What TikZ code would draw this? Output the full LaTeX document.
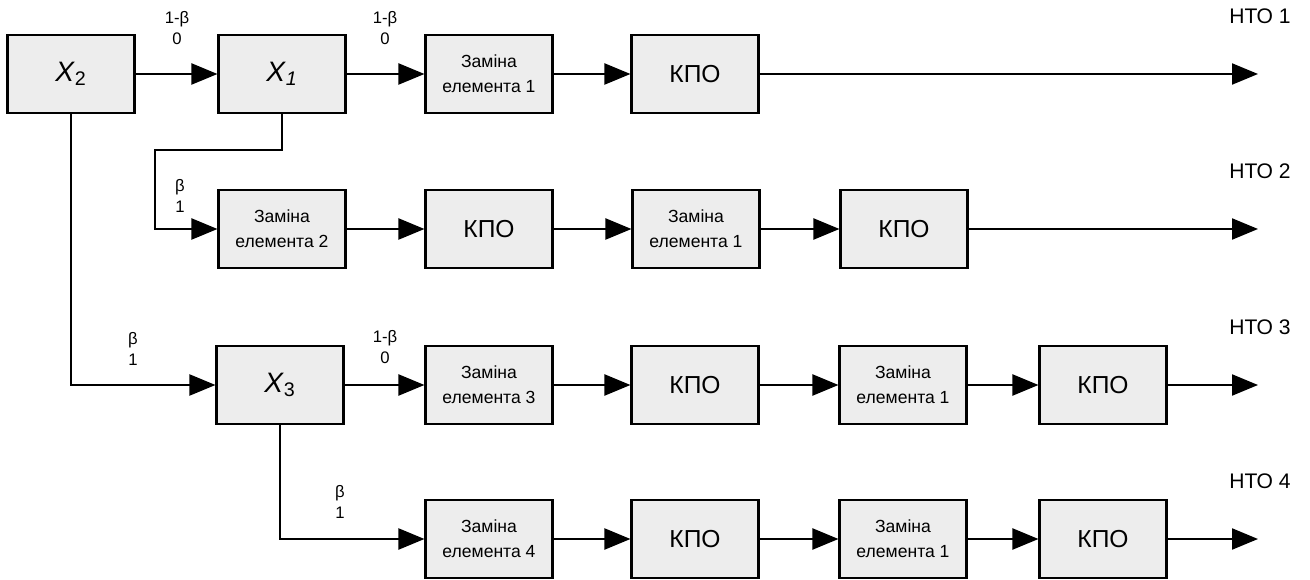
\documentclass[tikz,border=0pt]{standalone}
\usepackage{fontspec}
\setmainfont{Liberation Sans}
\usetikzlibrary{arrows.meta}

\begin{document}
\begin{tikzpicture}[x=0.02cm, y=-0.02cm, line width=1.2pt, >={Triangle[length=5.2mm, width=4.2mm]},
	blk/.style={draw, fill=gray!14, minimum width=2.54cm, minimum height=1.56cm, inner sep=1pt, align=center},
	zam/.style={blk, font=\fontsize{10}{14}\selectfont},
	kpo/.style={blk, font=\fontsize{14}{16}\selectfont},
	var/.style={blk, font=\fontsize{16}{18}\selectfont},
	lbl/.style={align=center, inner sep=0pt, font=\fontsize{9.5}{11.5}\selectfont},
	outlbl/.style={anchor=center, inner sep=0pt, font=\fontsize{12}{14}\selectfont}]
	\useasboundingbox (0,0) rectangle (1310,580);
	% row 1
	\node[var] (x2) at (71,74) {\textit{X}\textsubscript{2}};
	\node[var] (x1) at (282,74) {\textit{X}\textsubscript{\textit{1}}};
	\node[zam] (za1) at (489,74) {Заміна\\елемента 1};
	\node[kpo] (ka1) at (695,74) {КПО};
	% row 2
	\node[zam] (zb2) at (282,229) {Заміна\\елемента 2};
	\node[kpo] (kb1) at (489,229) {КПО};
	\node[zam] (zb1) at (696,229) {Заміна\\елемента 1};
	\node[kpo] (kb2) at (904,229) {КПО};
	% row 3
	\node[var] (x3) at (280,385) {\textit{X}\textsubscript{3}};
	\node[zam] (zc3) at (489,385) {Заміна\\елемента 3};
	\node[kpo] (kc1) at (695,385) {КПО};
	\node[zam] (zc1) at (903,385) {Заміна\\елемента 1};
	\node[kpo] (kc2) at (1103,385) {КПО};
	% row 4
	\node[zam] (zd4) at (489,539) {Заміна\\елемента 4};
	\node[kpo] (kd1) at (695,539) {КПО};
	\node[zam] (zd1) at (903,539) {Заміна\\елемента 1};
	\node[kpo] (kd2) at (1103,539) {КПО};
	% outputs
	\foreach \o/\y/\t in {o1/74/1, o2/229/2, o3/385/3, o4/539/4} {
		\coordinate (\o) at (1258,\y);
		\node[outlbl] (h\o) at (1260,\y-58) {НТО \t};
	}
	% straight connectors
	\foreach \a/\b in {x2/x1, x1/za1, za1/ka1, ka1/o1, zb2/kb1, kb1/zb1, zb1/kb2, kb2/o2, x3/zc3, zc3/kc1, kc1/zc1, zc1/kc2, kc2/o3, zd4/kd1, kd1/zd1, zd1/kd2, kd2/o4}
		\draw[->] (\a) -- (\b);
	% branches
	\coordinate (b1) at (155,150);
	\draw[->] (x1.south) |- (b1) |- (zb2.west);
	\draw[->] (x2.south) |- (x3.west);
	\draw[->] (x3.south) |- (zd4.west);
	% branch labels
	\node[lbl] (l1) at (177,28) {1-β\\0};
	\node[lbl] (l2) at (385,28) {1-β\\0};
	\node[lbl] (l3) at (180,196) {β\\1};
	\node[lbl] (l4) at (133,349) {β\\1};
	\node[lbl] (l5) at (385,347) {1-β\\0};
	\node[lbl] (l6) at (340,502) {β\\1};
\end{tikzpicture}
\end{document}
